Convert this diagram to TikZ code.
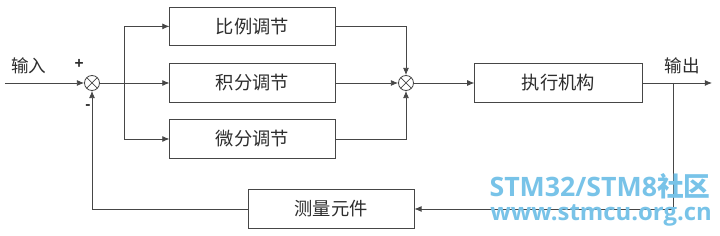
\documentclass[tikz,border=0pt]{standalone}
\usepackage{fontspec}
\usepackage{tikz}
\usetikzlibrary{arrows.meta,positioning}
\setmainfont{Liberation Sans}
\newfontfamily\cjk{Noto Sans CJK SC}
\newfontfamily\wmfont{Open Sans}
\definecolor{linegray}{RGB}{70,70,70}
\definecolor{textgray}{RGB}{45,45,45}
\definecolor{wmblue}{RGB}{120,195,232}
\tikzset{
  block/.style={rectangle, draw=linegray, line width=0.6pt, fill=white,
                minimum width=4.13cm, minimum height=0.96cm, inner sep=0pt,
                font=\cjk\fontsize{13}{14}\selectfont, text=textgray},
  summer/.style={circle, draw=linegray, line width=0.6pt, minimum size=3.75mm, inner sep=0pt,
                 path picture={\draw[linegray, line width=0.5pt]
                   (path picture bounding box.north west) -- (path picture bounding box.south east)
                   (path picture bounding box.north east) -- (path picture bounding box.south west);}},
  sig/.style={-{Latex[length=1.8mm,width=1.5mm]}, linegray, line width=0.6pt},
  wire/.style={linegray, line width=0.6pt},
  lbl/.style={font=\cjk\fontsize{12.5}{14}\selectfont, text=textgray},
  sign/.style={font=\bfseries\fontsize{11}{12}\selectfont, text=textgray, inner sep=0pt},
  wmark/.style={font=\wmfont\bfseries\fontsize{19}{20}\selectfont, text=wmblue, inner sep=0pt},
}
\begin{document}
\begin{tikzpicture}
    \useasboundingbox (0,0) rectangle (18,5.9);
    % summing points
    \node[summer] (s1) at (2.3, 3.825) {};
    \node[summer] (s2) at (10.15, 3.825) {};
    % controller branches
    \node[block] (P) at (6.3125, 5.24) {比例调节};
    \node[block] (I) at (6.3125, 3.825)  {积分调节};
    \node[block] (D) at (6.3125, 2.425)  {微分调节};
    \node[block, minimum width=4.18cm] (act)  at (13.96, 3.825) {执行机构};
    \node[block, minimum width=4.15cm] (meas) at (8.275, 0.675) {测量元件};
    % free ends and branch points
    \coordinate (in)  at (0.125, 3.825);
    \coordinate (out) at (17.8, 3.825);
    \coordinate (b1)  at (3.1, 3.825);
    \coordinate (b2)  at (16.825, 3.825);
    % labels
    \node[lbl] (inlbl)  at (0.72, 4.25) {输入};
    \node[lbl] (outlbl) at (17.05, 4.25) {输出};
    \node[sign] (plus)  at (1.98, 4.3)  {+};
    \node[sign] (minus) at (2.2, 3.22)  {-};
    % signal lines
    \draw[sig] (in) -- (s1.west);
    \draw[wire] (s1.east) -- (b1);
    \draw[sig] (b1) |- (P.west);
    \draw[sig] (b1) -- (I.west);
    \draw[sig] (b1) |- (D.west);
    \draw[sig] (P.east) -| (s2.north);
    \draw[sig] (I.east) -- (s2.west);
    \draw[sig] (D.east) -| (s2.south);
    \draw[sig] (s2.east) -- (act.west);
    \draw[sig] (act.east) -- (out);
    \draw[sig] (b2) |- (meas.east);
    \draw[sig] (meas.west) -| (s1.south);
    % watermark
    \node[wmark] (wm1) at (15.0, 1.25)  {STM32/STM8{\cjk 社区}};
    \node[wmark, font=\wmfont\bfseries\fontsize{17}{18}\selectfont] (wm2) at (15.03, 0.52) {www.stmcu.org.cn};
\end{tikzpicture}
\end{document}
